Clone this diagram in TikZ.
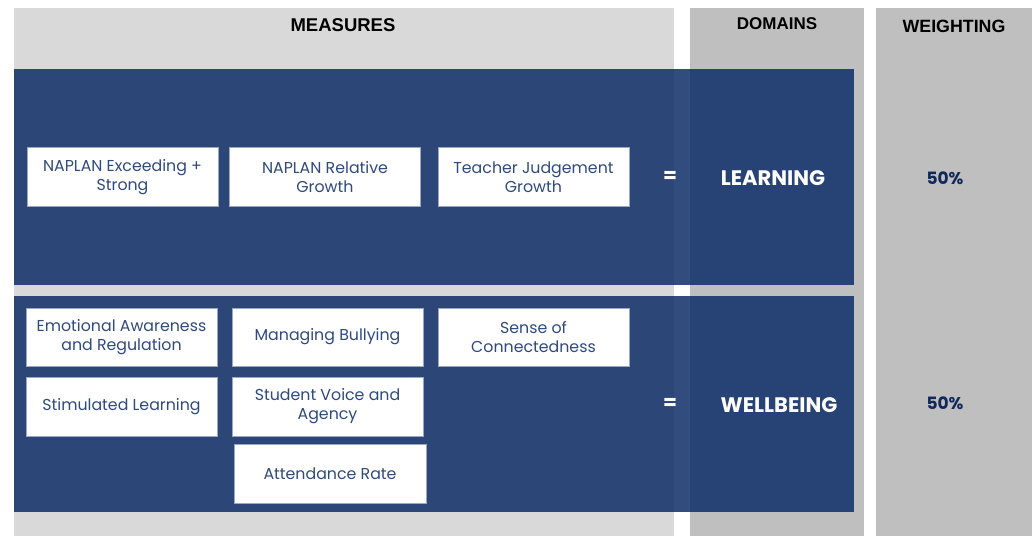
\documentclass[tikz,border=0pt]{standalone}
\usepackage{fontspec}
\setmainfont{Poppins}
\newfontfamily\headfont{Liberation Sans}
\definecolor{gA}{HTML}{D9D9D9}
\definecolor{gB}{HTML}{BFBFBF}
\definecolor{band}{HTML}{0D2D67}
\definecolor{txt}{HTML}{2F4A7E}
\definecolor{pct}{HTML}{10295A}
\definecolor{edge}{HTML}{9AA8C4}
\begin{document}
\begin{tikzpicture}[x=1pt,y=-1pt,
  colbg/.style={fill=#1,draw=none},
  bandbox/.style={fill=band,fill opacity=0.85,draw=none},
  measure/.style={fill=white,draw=edge,line width=0.6pt,text=txt,font=\fontsize{15.8}{19}\selectfont,align=center,inner sep=0pt},
  header/.style={font=\headfont\bfseries\fontsize{18.5}{20}\selectfont,text=black},
  domainlbl/.style={font=\bfseries\fontsize{21}{22}\selectfont,text=white},
  eqsign/.style={font=\bfseries\fontsize{20}{22}\selectfont,text=white},
  weight/.style={font=\bfseries\fontsize{17}{20}\selectfont,text=pct}]
\useasboundingbox (0,0) rectangle (1032,536);
\fill[white] (0,0) rectangle (1032,536);
% columns
\path[colbg=gA] (14,8) rectangle (674,536);
\path[colbg=gB] (690,8) rectangle (864,536);
\path[colbg=gB] (876,8) rectangle (1032,536);
\node[header] (hm) at (343,25) {MEASURES};
\node[header,font=\headfont\bfseries\fontsize{17}{20}\selectfont] (hd) at (777,24) {DOMAINS};
\node[header,font=\headfont\bfseries\fontsize{17.8}{20}\selectfont] (hw) at (954,26) {WEIGHTING};
% bands
\path[bandbox] (14,69) rectangle (854,285);
\path[bandbox] (14,296) rectangle (854,512);
% learning measures
\node[measure,minimum width=191pt,minimum height=59pt] (m1) at (122.5,177) {NAPLAN Exceeding +\\Strong};
\node[measure,minimum width=191pt,minimum height=59pt] (m2) at (325,177) {NAPLAN Relative\\Growth};
\node[measure,minimum width=191pt,minimum height=59pt] (m3) at (533.5,177) {Teacher Judgement\\Growth};
\node[eqsign] (e1) at (670,177) {=};
\node[domainlbl] (d1) at (773,178) {LEARNING};
\node[weight] (w1) at (945,178) {50\%};
% wellbeing measures
\node[measure,minimum width=191pt,minimum height=58pt] (n1) at (121.5,337) {Emotional Awareness\\and Regulation};
\node[measure,minimum width=191pt,minimum height=58pt] (n2) at (327.5,337) {Managing Bullying};
\node[measure,minimum width=191pt,minimum height=58pt] (n3) at (533.5,337) {Sense of\\Connectedness};
\node[measure,minimum width=191pt,minimum height=59pt] (n4) at (121.5,406.5) {Stimulated Learning};
\node[measure,minimum width=191pt,minimum height=59pt] (n5) at (327.5,406.5) {Student Voice and\\Agency};
\node[measure,minimum width=192pt,minimum height=59pt] (n6) at (330,473.5) {Attendance Rate};
\node[eqsign] (e2) at (670,404) {=};
\node[domainlbl] (d2) at (779,405) {WELLBEING};
\node[weight] (w2) at (945,403) {50\%};
\end{tikzpicture}
\end{document}
